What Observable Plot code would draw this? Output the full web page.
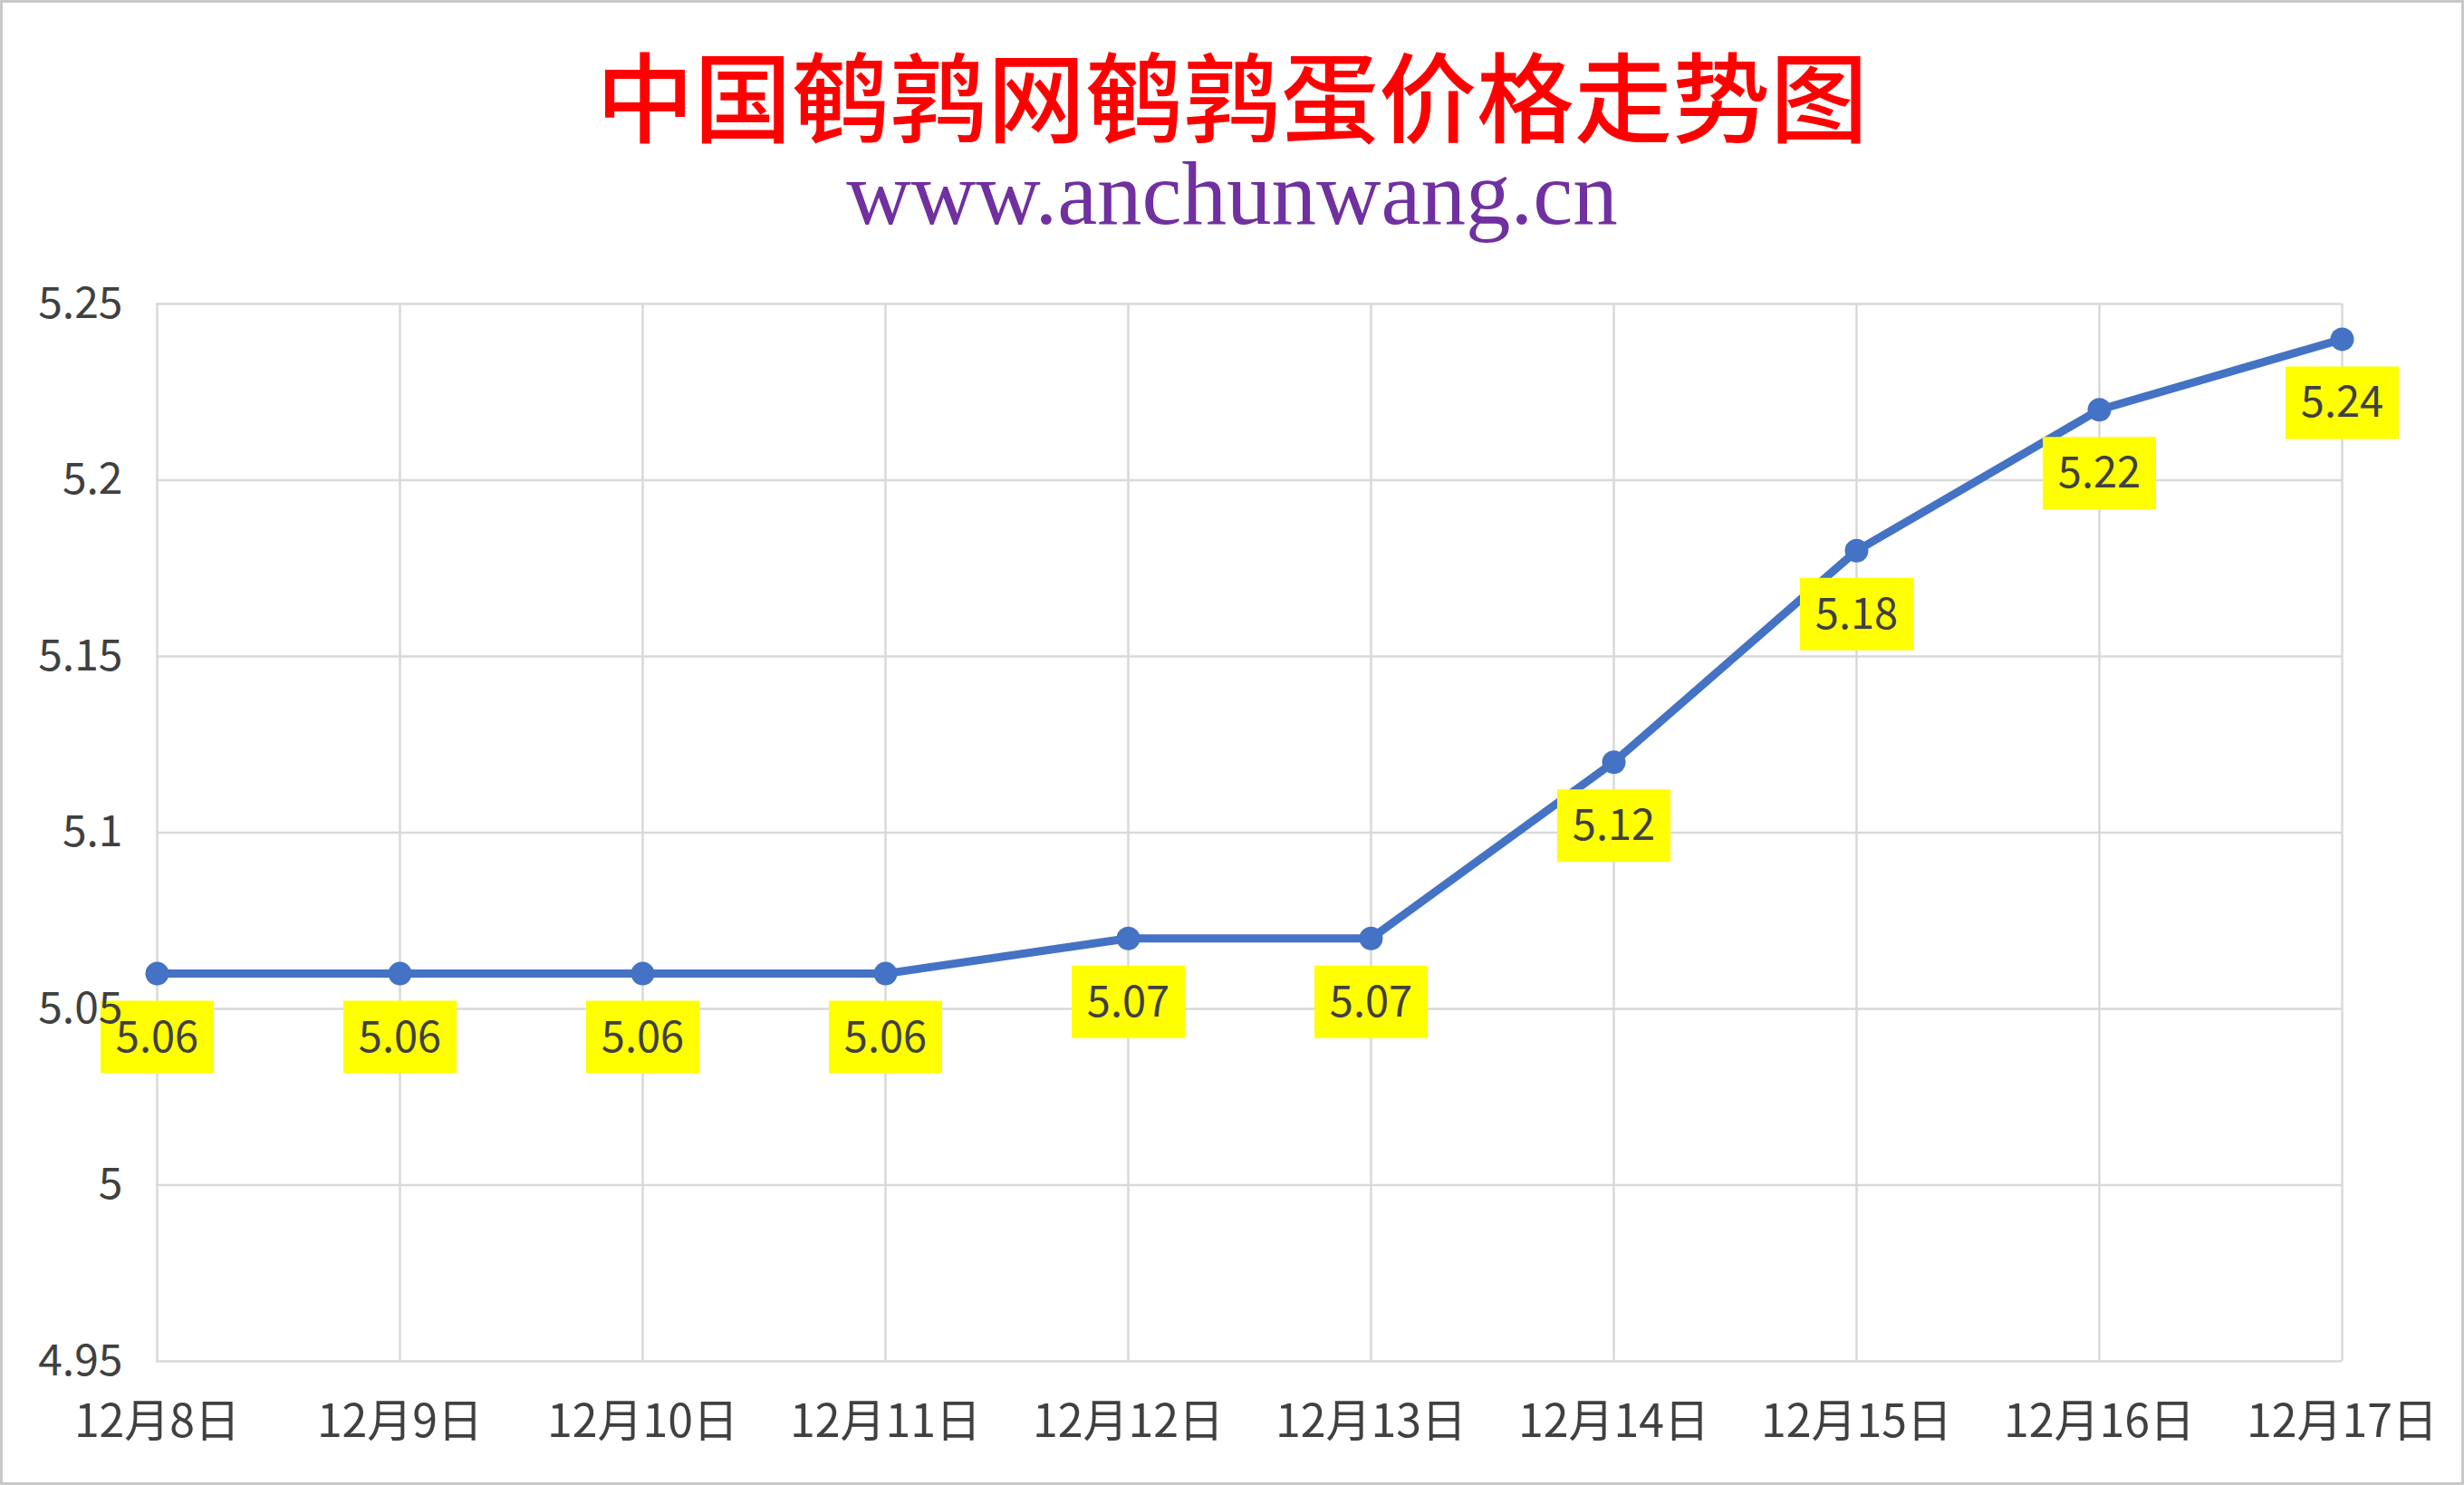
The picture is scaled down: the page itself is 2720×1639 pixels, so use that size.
<!DOCTYPE html>
<html>
<head>
<meta charset="utf-8">
<script src="https://cdn.jsdelivr.net/npm/d3@7"></script>
<script src="https://cdn.jsdelivr.net/npm/@observablehq/plot@0.6"></script>
<style>
  html, body { margin: 0; padding: 0; background: #fff; }
  #wrap { position: relative; width: 2720px; height: 1639px; overflow: hidden; background: #fff; }
  #title { position: absolute; left: 0; top: 46px; width: 2720px; text-align: center;
           font-family: "Noto Sans CJK SC", sans-serif; font-size: 108px; line-height: 112px;
           font-weight: 500; color: #FF0000; white-space: nowrap; }
  #subtitle { position: absolute; left: 0; top: 164px; width: 2720px; text-align: center;
              font-family: "Liberation Serif", "DejaVu Serif", serif; font-size: 99px; line-height: 99px;
              color: #7030A0; white-space: nowrap; }
  #chart { position: absolute; left: 0; top: 0; }
  #frame { position: absolute; left: 0; top: 0; width: 2720px; height: 1639px; box-sizing: border-box;
           border: 3px solid #c8c8c8; pointer-events: none; }
</style>
</head>
<body>
<div id="wrap">
  <div id="chart"></div>
  <div id="title">中国鹌鹑网鹌鹑蛋价格走势图</div>
  <div id="subtitle">www.anchunwang.cn</div>
  <div id="frame"></div>
</div>
<script>
const dates = ["12月8日", "12月9日", "12月10日", "12月11日", "12月12日", "12月13日", "12月14日", "12月15日", "12月16日", "12月17日"];
const prices = [5.06, 5.06, 5.06, 5.06, 5.07, 5.07, 5.12, 5.18, 5.22, 5.24];
const yTicks = [4.95, 5, 5.05, 5.1, 5.15, 5.2, 5.25];

const data = dates.map((d, i) => ({date: d, price: prices[i]}));

// yellow label box drawn below each point
const labelBox = { draw(ctx) { ctx.rect(-62.5, 30, 125, 80); } };

const fmt = d => String(+d.toFixed(2));

const chart = Plot.plot({
  width: 2720,
  height: 1639,
  marginTop: 335,
  marginBottom: 137,
  marginLeft: 172,
  marginRight: 135,
  style: { fontFamily: "'Noto Sans CJK SC', 'Noto Sans', sans-serif", background: "transparent", color: "#404040", overflow: "visible" },
  x: { type: "point", domain: dates, padding: 0, label: null },
  y: { domain: [4.95, 5.25], label: null },
  marks: [
    Plot.gridX(dates, { stroke: "#d9d9d9", strokeOpacity: 1, strokeWidth: 2.5 }),
    Plot.gridY(yTicks, { stroke: "#d9d9d9", strokeOpacity: 1, strokeWidth: 2.5 }),
    Plot.line(data, { x: "date", y: "price", stroke: "#4472C4", strokeWidth: 9 }),
    Plot.dot(data, { x: "date", y: "price", r: 13, fill: "#4472C4", stroke: "none" }),
    Plot.dot(data, { x: "date", y: "price", r: 5, symbol: labelBox, fill: "#FFFF00", stroke: "none" }),
    Plot.text(data, { x: "date", y: "price", text: d => d.price.toFixed(2), dy: 71, fontSize: 47, fill: "#404040" }),
    Plot.axisX({ tickSize: 0, tickPadding: 48, fontSize: 50, fill: "#404040", label: null }),
    Plot.axisY(yTicks, { tickSize: 0, tickPadding: 37, fontSize: 48, fill: "#404040", tickFormat: fmt, label: null })
  ]
});

document.getElementById("chart").appendChild(chart);
</script>
</body>
</html>
